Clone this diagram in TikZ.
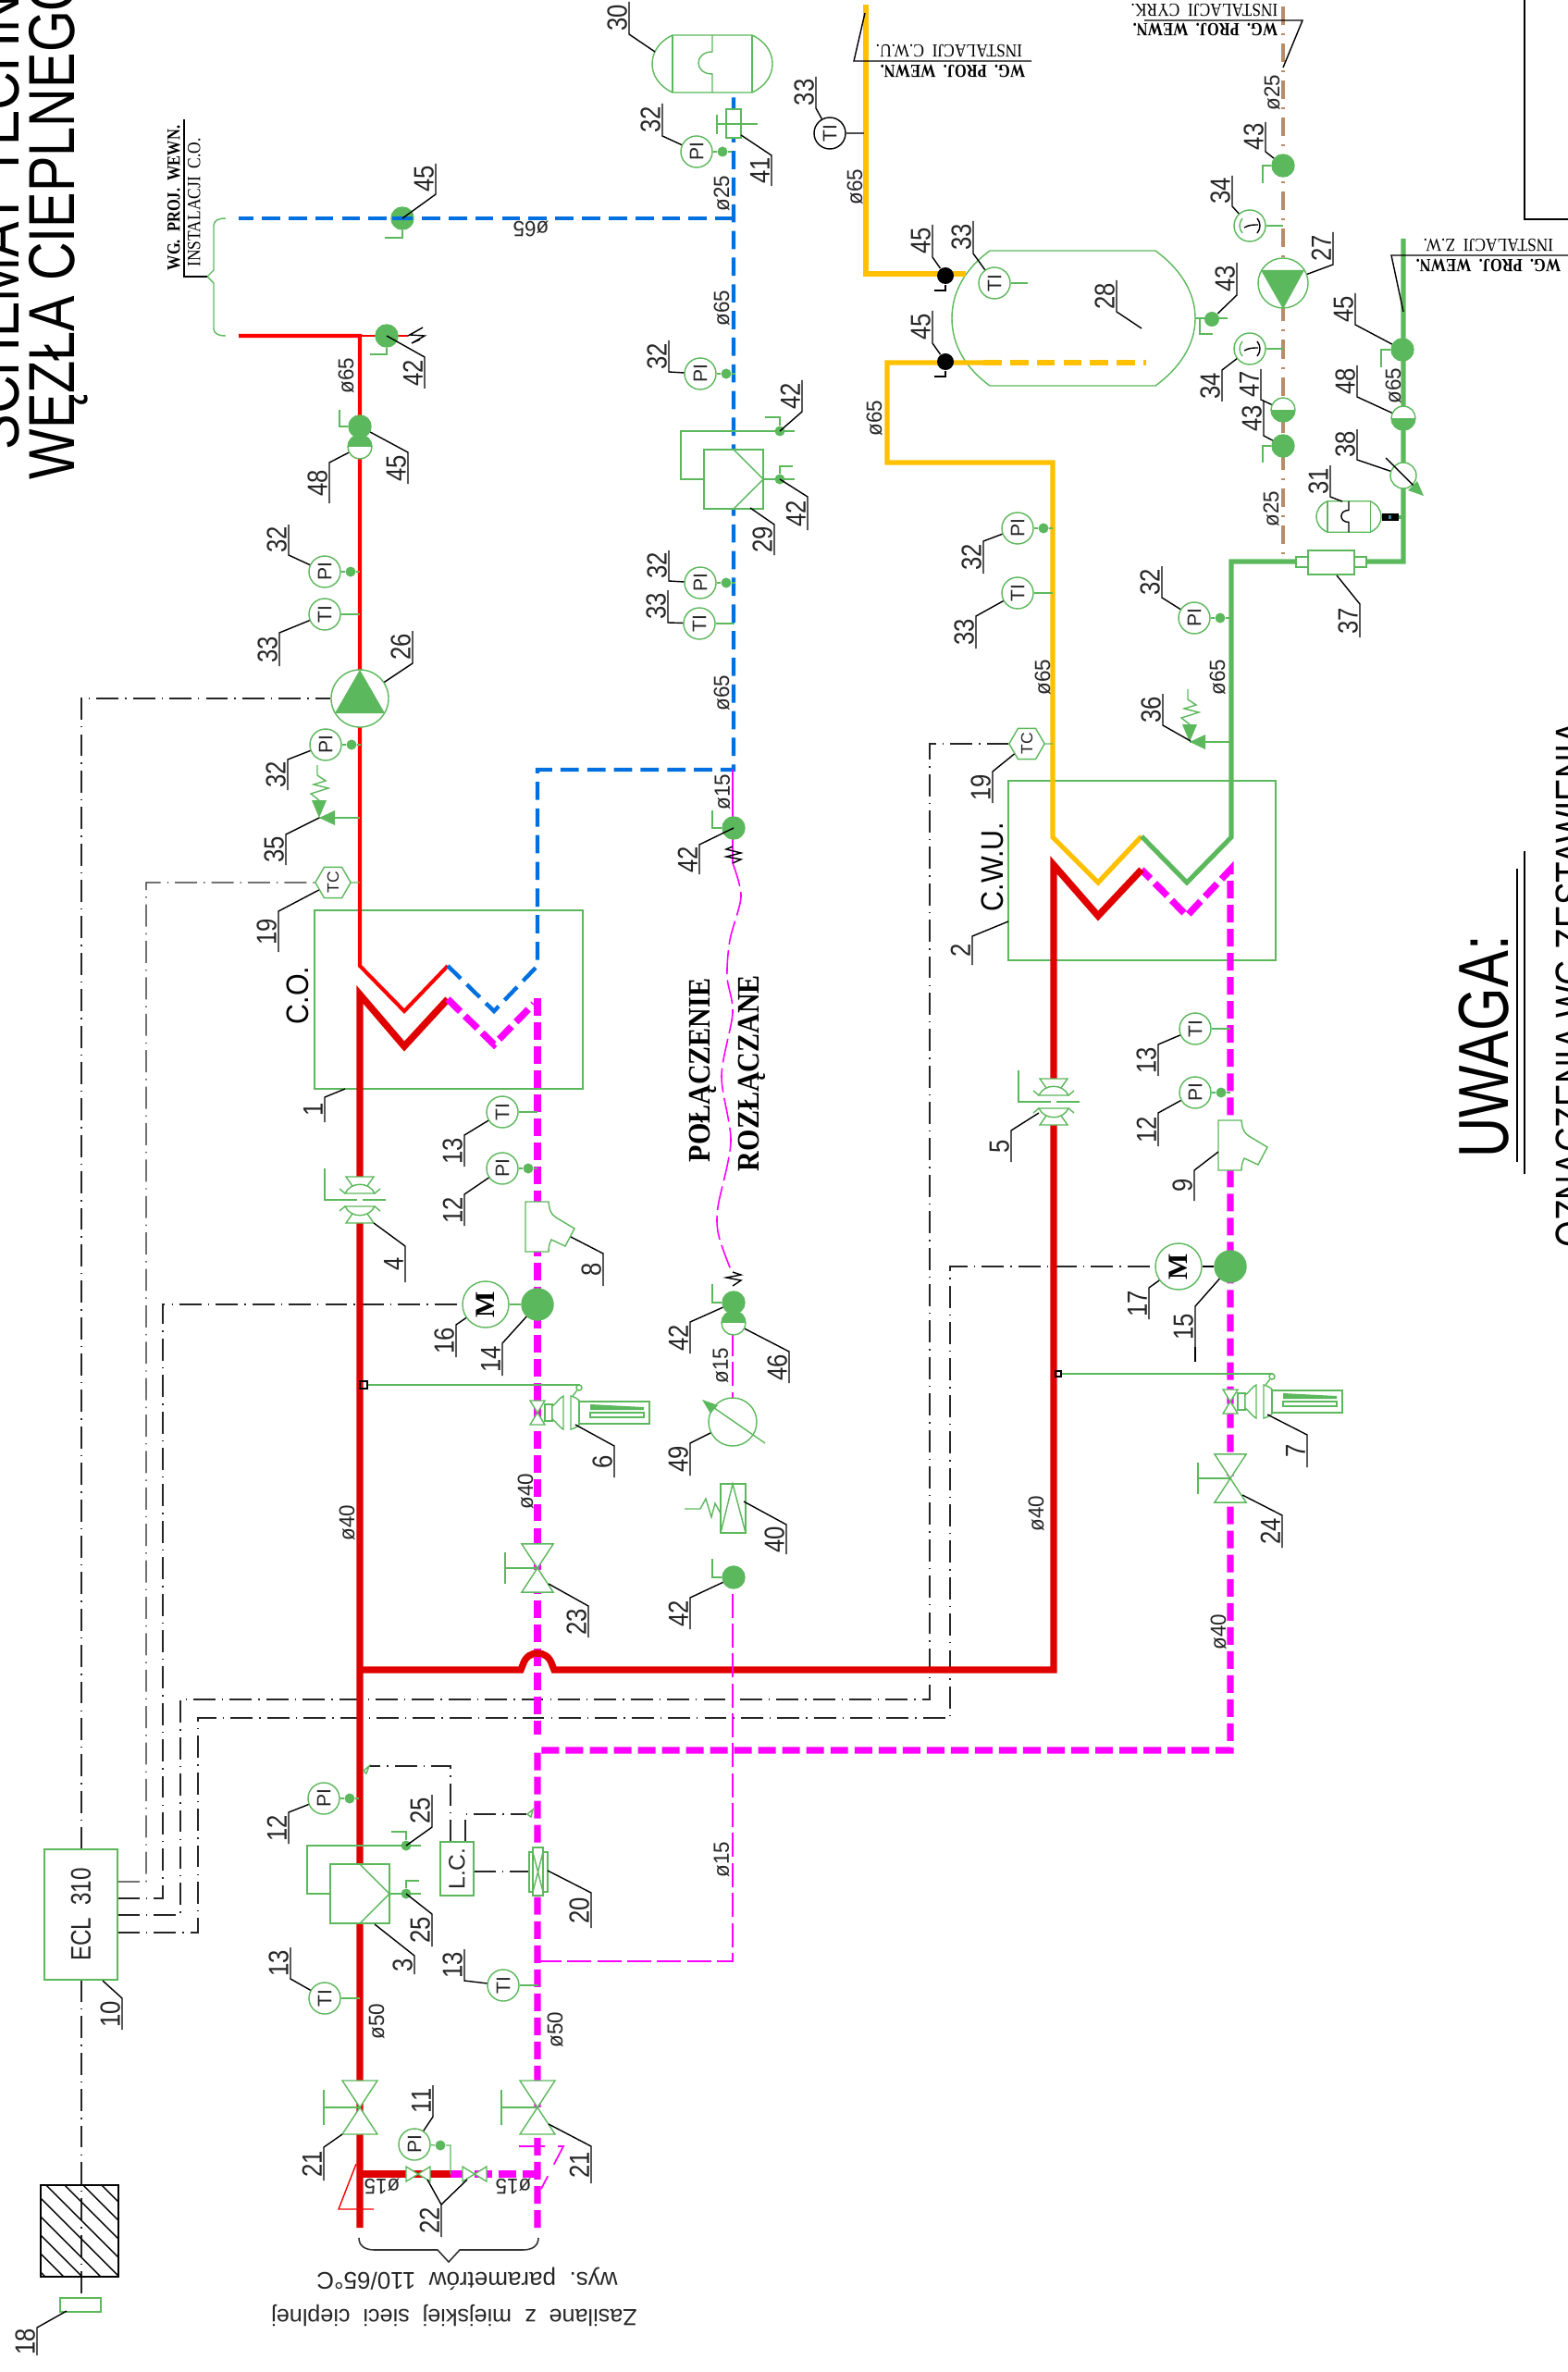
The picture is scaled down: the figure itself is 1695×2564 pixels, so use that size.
\documentclass[tikz,border=0pt]{standalone}
\usepackage{fontspec}
\setmainfont{Liberation Sans}
\newfontfamily\cadserif{Liberation Serif}
\usetikzlibrary{shapes.geometric,backgrounds}
\definecolor{pipegreen}{RGB}{92,184,92}
\definecolor{pipered}{RGB}{224,0,0}
\definecolor{thinred}{RGB}{255,0,0}
\definecolor{pipepink}{RGB}{255,0,255}
\definecolor{pipeblue}{RGB}{0,112,224}
\definecolor{pipeyellow}{RGB}{255,192,0}
\definecolor{pipebrown}{RGB}{184,140,100}
\tikzset{
    green line/.style={draw=pipegreen,line width=.4pt},
    tag line/.style={draw=black,line width=.4pt},
    tag text/.style={anchor=south,rotate=90,xscale=.85,inner sep=.4pt,text=black!85,
        font=\fontsize{8.6}{8.6}\selectfont},
    control line/.style={draw=black!85,line width=.4pt,dash pattern=on 6.8pt off 2pt on .4pt off 2pt},
    hot main/.style={draw=pipered,line width=2.1pt},
    hot thin/.style={draw=thinred,line width=1.15pt},
    back main/.style={draw=pipepink,line width=2.1pt,dash pattern=on 5.4pt off 2pt},
    back thin/.style={draw=pipepink,line width=.45pt,dash pattern=on 7.4pt off 1.8pt},
    blue main/.style={draw=pipeblue,line width=1.25pt,dash pattern=on 5.6pt off 2.6pt},
    yellow main/.style={draw=pipeyellow,line width=1.5pt},
    green main/.style={draw=pipegreen,line width=1.45pt},
    brown main/.style={draw=pipebrown,line width=1.35pt,dash pattern=on 5.7pt off 2.56pt on .57pt off 2.56pt},
    box/.style={draw=pipegreen,line width=.4pt,inner sep=0pt},
    gauge/.style={circle,draw=pipegreen,fill=white,line width=.4pt,inner sep=0pt,minimum size=.34cm,
        rotate=90,text=black!85,font=\fontsize{6}{6}\selectfont},
    bead/.style={circle,fill=pipegreen,inner sep=0pt,minimum size=.11cm},
    ball/.style={circle,fill=pipegreen,draw=pipegreen,inner sep=0pt,minimum size=.24cm},
    black ball/.style={circle,fill=black,inner sep=0pt,minimum size=.18cm},
    half top/.style={circle,draw=pipegreen,fill=white,line width=.4pt,inner sep=0pt,minimum size=.26cm,
        path picture={\fill[pipegreen] (path picture bounding box.west) rectangle (path picture bounding box.north east);}},
    half low/.style={circle,draw=pipegreen,fill=white,line width=.4pt,inner sep=0pt,minimum size=.26cm,
        path picture={\fill[pipegreen] (path picture bounding box.west) rectangle (path picture bounding box.south east);}},
    hex/.style={regular polygon,regular polygon sides=6,shape border rotate=90,draw=pipegreen,fill=white,
        line width=.4pt,inner sep=0pt,minimum size=.34cm,rotate=90,text=black!85,font=\fontsize{5}{5}\selectfont},
    motor/.style={circle,draw=pipegreen,fill=white,line width=.4pt,inner sep=0pt,minimum size=.5cm,
        rotate=90,font=\cadserif\bfseries\fontsize{8.5}{8.5}\selectfont},
    dim base/.style={inner sep=0pt,text=black!85,font=\fontsize{6.7}{6.7}\selectfont},
    dim up/.style={dim base,rotate=90,xscale=.95},
    dim flip/.style={dim base,rotate=180,xscale=.95},
    note up/.style={rotate=90,xscale=.87,inner sep=0pt,font=\cadserif\fontsize{5.7}{5.7}\selectfont},
    note flip/.style={rotate=180,xscale=.87,inner sep=0pt,font=\cadserif\fontsize{5.7}{5.7}\selectfont},
    head up/.style={rotate=90,xscale=.82,inner sep=0pt,font=\cadserif\bfseries\fontsize{5.7}{5.7}\selectfont},
    head flip/.style={rotate=180,xscale=.82,inner sep=0pt,font=\cadserif\bfseries\fontsize{5.7}{5.7}\selectfont},
    big text/.style={anchor=base west,rotate=90,inner sep=0pt},
    gate valve/.pic={
        \draw[green line,fill=white] (-19,-29) -- (19,-29) -- (-19,29) -- (19,29) -- cycle;
        \draw[green line] (0,0) -- (-39,0) (-39,-19) -- (-39,19);
    },
    bow valve/.pic={
        \draw[green line,fill=white] (-13,-8) -- (-13,8) -- (13,-8) -- (13,8) -- cycle;
    },
    flow valve/.pic={
        \fill[white] (-16,-25) rectangle (16,25);
        \draw[green line,fill=white] (-15,-25) -- (15,-25) -- (8,-15) -- (-8,-15) -- cycle;
        \draw[green line,fill=white] (-15,25) -- (15,25) -- (8,15) -- (-8,15) -- cycle;
        \draw[green line,fill=white] (-16,-7) .. controls (-10,-20) and (10,-20) .. (16,-7) -- cycle;
        \draw[green line,fill=white] (-16,7) .. controls (-10,20) and (10,20) .. (16,7) -- cycle;
        \draw[green line] (-22,-12) -- (-16,-7) (22,-12) -- (16,-7) (-22,12) -- (-16,7) (22,12) -- (16,7);
        \draw[green line] (-38,-34) -- (-38,0) -- (-3,0) (3,0) -- (28,0);
    },
    control valve/.pic={
        \draw[green line,fill=white] (-8,-13) -- (8,-13) -- (-8,13) -- (8,13) -- cycle;
        \draw[green line,fill=white] (8,-9) rectangle (16,9);
        \draw[green line,fill=white] (16,-7) .. controls (22,-12) and (24,-16) .. (28,-18) -- (28,18) .. controls (24,16) and (22,12) .. (16,7) -- cycle;
        \draw[green line,fill=white] (36,-18) .. controls (40,-17) and (44,-15) .. (46,-12) -- (46,12) .. controls (44,15) and (40,17) .. (36,18) -- cycle;
        \draw[green line,fill=white] (45,-12) rectangle (121,12);
        \draw[green line] (57,0) rectangle (115,5);
        \fill[pipegreen] (57,-9) -- (115,-6) -- (115,-3) -- (57,-3) -- cycle;
        \node[circle,green line,inner sep=0pt,minimum size=.06cm] (-eye) at (45,-27) {};
        \draw[green line] (-eye) -- (38,-18);
    },
    pressure regulator/.pic={
        \draw[green line,fill=white] (-32,-32) rectangle (32,32);
        \draw[green line] (0,-32) -- (32,0) -- (0,32);
        \draw[green line] (-32,0) -- (-57,0) -- (-57,-52) -- (66,-52);
        \draw[green line] (32,0) -- (66,0);
        \node[bead] (-up) at (50,-52) {};
        \node[bead] (-low) at (50,0) {};
        \draw[green line] (-up) -- (50,-67) -- (34,-67);
        \draw[green line] (-low) -- (50,-14) -- (64,-14);
    },
    strainer/.pic={
        \draw[green line,fill=white] (-13,-27) -- (12,-27) .. controls (13,-18) and (14,-14) .. (20,-10) -- (40,2)
            -- (30,21) -- (15,14) .. controls (13,18) and (12,22) .. (12,27) -- (-13,27) -- cycle;
    },
    relief valve/.pic={
        \draw[green line] (0,0) -- (44,0);
        \fill[pipegreen] (0,0) -- (17,-8) -- (17,8) -- cycle;
        \fill[pipegreen] (0,0) -- (-8,-19) -- (8,-19) -- cycle;
        \draw[green line] (0,-19) -- (-9,-26) -- (10,-32) -- (-6,-36) -- (7,-40) -- (-2,-46) -- (-2,-57);
    },
    diaphragm tank/.pic={
        \draw[green line,fill=white] (-43,-31) -- (43,-31) .. controls (58,-24) and (65,-12) .. (65,0)
            .. controls (65,12) and (58,24) .. (43,31) -- (-43,31) .. controls (-58,24) and (-65,12) .. (-65,0)
            .. controls (-65,-12) and (-58,-24) .. (-43,-31) -- cycle;
        \draw[green line] (-43,-31) -- (-43,31) (43,-31) -- (43,31);
        \draw[draw=#1,line width=.4pt] (0,-31) -- (0,-13) .. controls (-20,-13) and (-20,11) .. (0,11) -- (0,31);
    },
    dial mark/.pic={
        \draw[green line] (-8,-8) .. controls (-12,-3) and (-12,3) .. (-8,8);
        \draw[black,line width=.4pt] (-6,2) .. controls (-1,-1) and (4,-1) .. (9,-1);
        \draw[black,line width=.4pt] (8,-8) .. controls (12,-3) and (12,3) .. (8,8);
    }
}
\newcounter{tagno}
\newcommand{\tagmark}[4]{%
    \stepcounter{tagno}%
    \draw[tag line] #1 -- #2 -- #3 node[tag text,midway] (tag\arabic{tagno}) {#4};%
}
\newcommand{\gaugePI}[2]{%
    \node[gauge] (#1) at (#2) {PI};%
    \path (#1) ++(28,0) node[bead] (#1b) {};%
    \draw[green line] (#1) -- (#1b) -- ++(10,0);%
}
\newcommand{\gaugeTI}[2]{%
    \node[gauge] (#1) at (#2) {TI};%
    \draw[green line] (#1) -- ++(38,0);%
}

\begin{document}
\begin{tikzpicture}[x=.01cm,y=-.01cm]
    \useasboundingbox (0,0) rectangle (1695,2564);
    \clip (0,0) rectangle (1695,2564);

    \node[box,minimum width=2.9cm,minimum height=1.93cm] (co) at (485,1080.5) {};
    \node[box,minimum width=2.89cm,minimum height=1.94cm] (cwu) at (1234.5,941) {};

    \node[big text,xscale=.82,font=\fontsize{20}{20}\selectfont] (title1) at (21,487) {SCHEMAT TECHN};
    \node[big text,xscale=.82,font=\fontsize{20}{20}\selectfont] (title2) at (80,519) {WĘZŁA CIEPLNEGO};
    \node[big text,xscale=.78,font=\fontsize{21.8}{21.8}\selectfont] (uwaga) at (1630,1252) {UWAGA:};
    \node[big text,xscale=.79,font=\fontsize{13.3}{13.3}\selectfont] (ozn) at (1714,1349) {OZNACZENIA WG ZESTAWIENIA};
    \draw[black,line width=.4pt] (1640,939) -- (1640,1256) (1648,920) -- (1648,1269);
    \draw[black,line width=.4pt] (1695,237) -- (1648,237) -- (1648,0);

    \draw[green line] (1070,271) -- (1249,271) .. controls (1275,290) and (1292,315) .. (1292,344)
        .. controls (1292,373) and (1275,398) .. (1249,417) -- (1070,417) .. controls (1044,398) and (1029,373) .. (1029,344)
        .. controls (1029,315) and (1044,290) .. (1070,271) -- cycle;

    \draw[hot thin] (258,363) -- (389,363) -- (389,1044) -- (437,1093) -- (484,1044);
    \draw[blue main] (484,1044) -- (534,1093) -- (581,1044) -- (581,832) -- (793,832) -- (793,100);
    \draw[blue main] (793,236) -- (258,236);
    \draw[hot main] (389,2408) -- (389,1075) -- (437,1131) -- (484,1080);
    \draw[back main] (484,1080) -- (534,1129) -- (577,1085);
    \draw[back main] (581,1079) -- (581,1875);
    \draw[back main] (581,2408) -- (581,1892) -- (1330,1892) -- (1330,940) -- (1283,990) -- (1234,940);
    \draw[hot main] (389,1805) -- (563,1805) -- (565,1800) .. controls (568,1790) and (575,1787) .. (581,1787)
        .. controls (587,1787) and (594,1790) .. (597,1800) -- (599,1805) -- (1139,1805) -- (1139,935) -- (1187,990) -- (1234,940);
    \draw[hot main] (389,2350) -- (487,2350);
    \draw[back main] (487,2350) -- (581,2350);
    \draw[yellow main] (1234,904) -- (1187,954) -- (1138,905) -- (1138,500) -- (959,500) -- (959,392) -- (1063,392);
    \draw[yellow main,dash pattern=on 5.6pt off 2.6pt] (1063,392) -- (1239,392);
    \draw[yellow main] (936,5) -- (936,296) -- (1044,296);
    \draw[green main] (1234,904) -- (1283,954) -- (1331,905) -- (1331,607) -- (1517,607) -- (1517,258);
    \draw[brown main] (1387,7) -- (1387,607);

    \draw[back thin] (581,2120) -- (792,2120) -- (792,1718);
    \draw[back thin] (792,1657) -- (792,1604);
    \draw[back thin] (792,1563) -- (792,1442);
    \draw[draw=pipepink,line width=.45pt] (792,933) -- (792,832);
    \draw[back thin] plot[smooth] coordinates {(792,933) (801,969) (789,1016) (786,1056) (792,1095) (780,1163) (790,1234) (776,1305) (777,1336) (791,1375)};
    \draw[black,line width=.4pt] (792,915) -- (785,918) -- (801,922) -- (785,926) -- (801,929) -- (792,933);
    \draw[black,line width=.4pt] (792,1375) -- (801,1378) -- (785,1381) -- (801,1384) -- (792,1390);

    \draw[draw=thinred,line width=.4pt] (385,2339) -- (366,2388) -- (404,2388);
    \draw[draw=pipepink,line width=.5pt,dash pattern=on 8pt off 4pt] (561,2320) -- (609,2320) -- (585,2366);
    \draw[draw=thinred,line width=.4pt] (390,363) -- (441,363);
    \draw[black,line width=.4pt] (441,363) -- (457,354) -- (443,362) -- (459,363) -- (445,371) -- (454,367);

    \pic (vA) at (389,2278) {gate valve};
    \pic (vB) at (581,2278) {gate valve};
    \pic[scale=.9] (vC) at (581,1695) {gate valve};
    \pic[scale=.9] (vD) at (1330,1598) {gate valve};
    \pic (vE) at (452,2350) {bow valve};
    \pic (vF) at (513,2350) {bow valve};
    \pic (fA) at (389,1297) {flow valve};
    \pic (fB) at (1139,1191) {flow valve};
    \pic (cvA) at (581,1527) {control valve};
    \pic (cvB) at (1330,1515) {control valve};
    \pic (reA) at (389,2047) {pressure regulator};
    \pic (reB) at (793,518) {pressure regulator};
    \pic (stA) at (581,1326) {strainer};
    \pic (stB) at (1330,1238) {strainer};
    \pic (rvA) at (345,884) {relief valve};
    \pic (rvB) at (1286,802) {relief valve};
    \pic (tkA) at (770,69) {diaphragm tank=pipegreen};
    \pic[scale=.54] (tkB) at (1458,558.5) {diaphragm tank=black};

    \node[box,fill=white,rotate=90,minimum width=1.41cm,minimum height=.79cm,text=black!85,font=\fontsize{8.6}{8.6}\selectfont] (ecl) at (87.5,2069.5) {\scalebox{.8}[1]{ECL\ \ 310}};
    \node[box,fill=white,rotate=90,minimum width=.58cm,minimum height=.36cm,text=black!85,font=\fontsize{7}{7}\selectfont] (lc) at (494,2020) {L.C.};
    \node[box,minimum width=.44cm,minimum height=.15cm] (sens) at (87,2491.5) {};
    \node[draw=black,line width=.5pt,minimum width=.84cm,minimum height=.99cm,inner sep=0pt] (hatch) at (86,2411.5) {};
    \begin{scope}
        \clip (44,2362) rectangle (128,2461);
        \foreach \k in {-70,-50,...,110} {
            \draw[black,line width=.4pt] (\k,2362) -- ++(100,100);
        }
    \end{scope}

    \node[circle,draw=pipegreen,fill=white,line width=.4pt,inner sep=0pt,minimum size=.62cm] (pA) at (389,755) {};
    \fill[pipegreen] (389,724) -- (416,771) -- (362,771) -- cycle;
    \node[circle,draw=pipegreen,fill=white,line width=.4pt,inner sep=0pt,minimum size=.54cm] (pB) at (1387,306) {};
    \fill[pipegreen] (1363,292) -- (1410,292) -- (1387,334) -- cycle;
    \node[motor] (mA) at (525,1410) {M};
    \node[motor] (mB) at (1274,1369) {M};
    \node[ball,minimum size=.34cm] (bA) at (581,1410) {};
    \node[ball,minimum size=.34cm] (bB) at (1330,1369) {};
    \draw[green line] (mA) -- (bA);
    \draw[black,line width=.4pt] (mB) -- (bB);
    \node[hex] (tcA) at (360,954) {TC};
    \node[hex] (tcB) at (1110,804) {TC};
    \draw[green line] (tcA) -- (389,954);
    \draw[green line] (tcB) -- (1138,804);

    \gaugePI{piA}{350,1944}
    \gaugePI{piB}{543,1263}
    \gaugePI{piC}{1292,1181}
    \gaugePI{piD}{352,805}
    \gaugePI{piE}{351,618}
    \gaugePI{piF}{753,164}
    \gaugePI{piG}{757,404}
    \gaugePI{piH}{757,630}
    \gaugePI{piJ}{1100,571}
    \gaugePI{piK}{1291,668}
    \node[gauge] (piL) at (448,2318) {PI};
    \node[bead] (piLb) at (476,2319) {};
    \draw[green line] (piL) -- (piLb) -- (487,2319) -- (487,2350);
    \gaugeTI{tiA}{351,2160}
    \gaugeTI{tiB}{544,2146}
    \gaugeTI{tiC}{543,1202}
    \gaugeTI{tiD}{1292,1112}
    \gaugeTI{tiE}{351,664}
    \gaugeTI{tiF}{756,674}
    \gaugeTI{tiG}{1100,641}
    \node[gauge,draw=black] (tiH) at (897,144) {TI};
    \draw[black!70,line width=.5pt] (tiH) -- (934,144);
    \node[gauge] (tiJ) at (1075,306) {TI};
    \draw[green line] (tiJ) -- (1111,306);
    \node[gauge] (thA) at (1351,244) {};
    \node[gauge] (thB) at (1351,377) {};
    \draw[green line] (thA) -- (1387,244);
    \draw[green line] (thB) -- (1387,377);
    \pic at (1351,244) {dial mark};
    \pic at (1351,377) {dial mark};

    \node[ball] (gA) at (435,236) {};
    \draw[green line] (gA) -- (435,257) -- (416,257);
    \draw[pipeblue,line width=1.25pt] (424,236) -- (446,236);
    \node[ball] (gB) at (418,363) {};
    \draw[green line] (gB) -- (418,383) -- (400,383);
    \node[ball] (gC) at (389,461) {};
    \draw[green line] (gC) -- (367,461) -- (367,443);
    \node[half top] (hA) at (389,483) {};
    \node[ball] (gD) at (793,895) {};
    \draw[green line] (gD) -- (770,895) -- (770,876);
    \node[ball] (gE) at (793,1408) {};
    \draw[green line] (gE) -- (770,1408) -- (770,1388);
    \node[half top] (hB) at (793,1430) {};
    \node[ball] (gF) at (793,1705) {};
    \draw[green line] (gF) -- (770,1705) -- (770,1685);
    \node[black ball] (kA) at (1022,298) {};
    \draw[black,line width=.4pt] (kA) -- (1022,314) -- (1010,314);
    \node[black ball] (kB) at (1022,391) {};
    \draw[black,line width=.4pt] (kB) -- (1022,407) -- (1010,407);
    \node[ball] (gG) at (1387,179) {};
    \draw[green line] (gG) -- (1365,179) -- (1365,198);
    \node[ball] (gH) at (1387,482) {};
    \draw[green line] (gH) -- (1365,482) -- (1365,500);
    \node[half low] (hC) at (1387,443) {};
    \node[ball] (gJ) at (1516,378) {};
    \draw[green line] (gJ) -- (1493,378) -- (1493,397);
    \node[half low] (hD) at (1517,452) {};
    \node[bead,minimum size=.16cm] (gK) at (1310,345) {};
    \draw[green line] (1292,344) -- (1327,344) (1297,344) -- (1297,361) -- (1311,361);

    \node[circle,draw=pipegreen,fill=white,line width=.4pt,inner sep=0pt,minimum size=.52cm] (pC) at (792,1537) {};
    \draw[green line] (827,1560) -- (765,1517);
    \fill[pipegreen] (759,1513) -- (776,1519) -- (768,1528) -- cycle;
    \draw[green line,fill=white] (779,1604) rectangle (806,1657);
    \draw[green line] (779,1657) -- (792,1604) -- (806,1657);
    \draw[green line] (740,1631) -- (757,1631) -- (763,1620) -- (769,1640) -- (773,1625) -- (779,1636);
    \node[circle,draw=pipegreen,fill=white,line width=.4pt,inner sep=0pt,minimum size=.28cm] (pD) at (1517,514) {};
    \draw[black,line width=.4pt] (1498,495) -- (1534,531);
    \fill[pipegreen] (1539,536) -- (1522,530) -- (1532,520) -- cycle;
    \draw[green line,fill=white] (1414,595) rectangle (1464,621);
    \draw[green line,fill=white] (1401,602) rectangle (1414,613);
    \draw[green line,fill=white] (1464,602) rectangle (1477,613);
    \fill[black] (1494,555) rectangle (1512,563);
    \fill[cyan!60!black] (1501,557) rectangle (1504,561);
    \draw[green line,line width=1pt] (1512,559) -- (1517,559);
    \draw[green line,fill=white] (785,118) rectangle (801,149);
    \draw[green line] (775,134) -- (819,134) (775,124) -- (775,145);
    \draw[green line,fill=white] (572,2002) rectangle (592,2045);
    \draw[green line,fill=white] (576,1997) rectangle (587,2049);
    \draw[green line] (576,2002) -- (587,2045) (587,2002) -- (576,2045);
    \draw[green line,fill=white] (399,1909) -- (393,1914) -- (396,1917) -- cycle;
    \draw[green line,fill=white] (576,1956) -- (570,1961) -- (574,1964) -- cycle;

    \node[draw=black,line width=.4pt,inner sep=0pt,minimum size=.08cm] (capA) at (393,1497) {};
    \node[draw=black,line width=.4pt,inner sep=0pt,minimum size=.06cm] (capB) at (1144,1485) {};
    \draw[green line] (capA) -| (cvA-eye.north);
    \draw[green line] (capB) -| (cvB-eye.north);

    \begin{pgfonlayer}{background}
        \draw[control line] (88,1999) -- (88,755) -- (pA);
        \draw[control line] (88,2140) -- (88,2484);
        \draw[control line] (127,2034) -- (158,2034) -- (158,954) -- (tcA);
        \draw[control line] (127,2052) -- (176,2052) -- (176,1410) -- (mA);
        \draw[control line] (127,2070) -- (195,2070) -- (195,1837) -- (1005,1837) -- (1005,804) -- (tcB);
        \draw[control line] (127,2089) -- (214,2089) -- (214,1857) -- (1027,1857) -- (1027,1369) -- (mB);
        \draw[control line] (487,1991) -- (487,1909) -- (399,1909);
        \draw[control line] (503,1991) -- (503,1961) -- (569,1961);
        \draw[control line] (512,2023) -- (572,2023);
    \end{pgfonlayer}

    \draw[green line] (244,236) .. controls (235,236) and (231,239) .. (231,244) -- (231,292) -- (224,299) -- (231,306) -- (231,355) .. controls (231,360) and (235,363) .. (244,363);
    \draw[black,line width=.4pt] (199,129) -- (199,299) -- (224,299);
    \draw[black,line width=.4pt] (935,14) -- (923,66) -- (1115,66);
    \draw[black,line width=.4pt] (1387,73) -- (1408,22) -- (1237,22);
    \draw[black,line width=.4pt] (1517,337) -- (1504,276) -- (1695,276);
    \draw[black!80,line width=.45pt] (388,2419) .. controls (388,2428) and (395,2432) .. (405,2432) -- (473,2432) -- (485,2445) -- (497,2432) -- (565,2432) .. controls (575,2432) and (582,2428) .. (582,2419);

    \node[head up] (nA) at (188,214) {WG.\ \ PROJ.\ \ WEWN.};
    \node[note up] (nB) at (210,219) {INSTALACJI\ \ C.O.};
    \node[head flip] (nC) at (1030,77) {WG.\ \ PROJ.\ \ WEWN.};
    \node[note flip] (nD) at (1026,55) {INSTALACJI\ \ C.W.U.};
    \node[head flip] (nE) at (1303,32) {WG.\ \ PROJ.\ \ WEWN.};
    \node[note flip] (nF) at (1302,11) {INSTALACJI\ \ CYRK.};
    \node[head flip] (nG) at (1609,287) {WG.\ \ PROJ.\ \ WEWN.};
    \node[note flip] (nH) at (1609,265) {INSTALACJI\ \ Z.W.};
    \node[rotate=180,inner sep=0pt,text=black!85,font=\fontsize{7.4}{7.4}\selectfont] (nJ) at (505,2463) {wys.\ \ parametrów\ \ 110/65°C};
    \node[rotate=180,inner sep=0pt,text=black!85,font=\fontsize{7.15}{7.15}\selectfont] (nK) at (491,2503) {Zasilane\ \ z\ \ miejskiej\ \ sieci\ \ cieplnej};
    \node[rotate=90,inner sep=0pt,xscale=.89,font=\cadserif\bfseries\fontsize{9.6}{9.6}\selectfont] (nL) at (760,1157) {POŁĄCZENIE};
    \node[rotate=90,inner sep=0pt,xscale=.89,font=\cadserif\bfseries\fontsize{9.6}{9.6}\selectfont] (nM) at (813,1160) {ROZŁĄCZANE};
    \node[rotate=90,inner sep=0pt,xscale=.9,font=\fontsize{9.6}{9.6}\selectfont] (nN) at (322,1076) {C.O.};
    \node[rotate=90,inner sep=0pt,xscale=.9,font=\fontsize{9.6}{9.6}\selectfont] (nP) at (1073,937) {C.W.U.};

    \node[dim up] (dA) at (374,406) {ø65};
    \node[dim flip] (dB) at (574,248) {ø65};
    \node[dim up] (dC) at (780,209) {ø25};
    \node[dim up] (dD) at (780,333) {ø65};
    \node[dim up] (dE) at (780,749) {ø65};
    \node[dim up] (dF) at (781,856) {ø15};
    \node[dim up] (dG) at (779,1476) {ø15};
    \node[dim up] (dH) at (375,1646) {ø40};
    \node[dim up] (dJ) at (568,1612) {ø40};
    \node[dim up] (dK) at (780,2010) {ø15};
    \node[dim up] (dL) at (407,2185) {ø50};
    \node[dim up] (dM) at (600,2194) {ø50};
    \node[dim flip] (dN) at (413,2363) {ø15};
    \node[dim flip] (dP) at (555,2363) {ø15};
    \node[dim up] (dQ) at (924,202) {ø65};
    \node[dim up] (dR) at (945,452) {ø65};
    \node[dim up] (dS) at (1375,100) {ø25};
    \node[dim up] (dT) at (1374,550) {ø25};
    \node[dim up] (dU) at (1127,732) {ø65};
    \node[dim up] (dV) at (1316,732) {ø65};
    \node[dim up] (dW) at (1506,417) {ø65};
    \node[dim up] (dX) at (1120,1636) {ø40};
    \node[dim up] (dY) at (1317,1764) {ø40};

    \tagmark{(111,2141)}{(132,2160)}{(132,2194)}{10}
    \tagmark{(72,2498)}{(40,2516)}{(40,2546)}{18}
    \tagmark{(370,2307)}{(350,2321)}{(350,2357)}{21}
    \tagmark{(593,2296)}{(639,2320)}{(639,2360)}{21}
    \tagmark{(piL)}{(468,2288)}{(468,2254)}{11}
    \tagmark{(462,2356)}{(477,2383)}{(477,2418)}{22}
    \draw[tag line] (505,2356) -- (477,2383);
    \tagmark{(tiA)}{(314,2139)}{(314,2105)}{13}
    \tagmark{(tiB)}{(502,2141)}{(502,2107)}{13}
    \tagmark{(piA)}{(312,1959)}{(312,1993)}{12}
    \tagmark{(reA-up.center)}{(467,1975)}{(467,1940)}{25}
    \tagmark{(reA-low.center)}{(467,2069)}{(467,2104)}{25}
    \tagmark{(405,2080)}{(448,2114)}{(448,2134)}{3}
    \tagmark{(592,2022)}{(639,2046)}{(639,2084)}{20}
    \tagmark{(593,1712)}{(636,1736)}{(636,1770)}{23}
    \tagmark{(622,1540)}{(664,1563)}{(664,1597)}{6}
    \tagmark{(mA)}{(493,1432)}{(493,1467)}{16}
    \tagmark{(bA)}{(543,1452)}{(543,1487)}{14}
    \tagmark{(617,1337)}{(652,1355)}{(652,1390)}{8}
    \tagmark{(tiC)}{(502,1227)}{(502,1261)}{13}
    \tagmark{(piB)}{(502,1291)}{(502,1325)}{12}
    \tagmark{(404,1322)}{(438,1347)}{(438,1386)}{4}
    \tagmark{(373,1177)}{(351,1186)}{(351,1213)}{1}
    \tagmark{(tcA)}{(301,985)}{(301,1029)}{19}
    \tagmark{(345,884)}{(309,902)}{(309,935)}{35}
    \tagmark{(piD)}{(311,821)}{(311,854)}{32}
    \tagmark{(pA)}{(446,717)}{(446,682)}{26}
    \tagmark{(tiE)}{(302,684)}{(302,720)}{33}
    \tagmark{(piE)}{(312,600)}{(312,567)}{32}
    \tagmark{(hA)}{(356,500)}{(356,544)}{48}
    \tagmark{(gC)}{(441,489)}{(441,523)}{45}
    \tagmark{(gB.center)}{(459,386)}{(459,420)}{42}
    \tagmark{(gA.center)}{(471,210)}{(471,177)}{45}
    \tagmark{(708,56)}{(680,37)}{(680,2)}{30}
    \tagmark{(piF)}{(716,147)}{(716,112)}{32}
    \tagmark{(801,146)}{(834,168)}{(834,201)}{41}
    \tagmark{(piG)}{(723,402)}{(723,368)}{32}
    \tagmark{(reB-up.center)}{(867,445)}{(867,411)}{42}
    \tagmark{(reB-low.center)}{(873,537)}{(873,573)}{42}
    \tagmark{(811,549)}{(837,567)}{(837,600)}{29}
    \tagmark{(piH)}{(723,628)}{(723,595)}{32}
    \tagmark{(tiF)}{(722,673)}{(722,638)}{33}
    \tagmark{(gD.center)}{(756,913)}{(756,945)}{42}
    \tagmark{(gE)}{(746,1429)}{(746,1463)}{42}
    \tagmark{(hB)}{(853,1461)}{(853,1495)}{46}
    \tagmark{(pC)}{(746,1560)}{(746,1595)}{49}
    \tagmark{(804,1623)}{(850,1648)}{(850,1680)}{40}
    \tagmark{(gF)}{(746,1727)}{(746,1761)}{42}
    \tagmark{(tiH)}{(882,117)}{(882,83)}{33}
    \tagmark{(kA)}{(1008,278)}{(1008,243)}{45}
    \tagmark{(kB)}{(1008,371)}{(1008,336)}{45}
    \tagmark{(tiJ)}{(1052,274)}{(1052,239)}{33}
    \tagmark{(1234,355)}{(1207,337)}{(1207,303)}{28}
    \tagmark{(piJ)}{(1063,585)}{(1063,620)}{32}
    \tagmark{(tiG)}{(1055,666)}{(1055,701)}{33}
    \tagmark{(tcB)}{(1073,834)}{(1073,868)}{19}
    \tagmark{(1287,801)}{(1257,784)}{(1257,750)}{36}
    \tagmark{(piK)}{(1256,646)}{(1256,612)}{32}
    \tagmark{(1090,996)}{(1051,1012)}{(1051,1043)}{2}
    \tagmark{(1123,1203)}{(1093,1222)}{(1093,1256)}{5}
    \tagmark{(tiD)}{(1252,1129)}{(1252,1163)}{13}
    \tagmark{(piC)}{(1252,1203)}{(1252,1239)}{12}
    \tagmark{(1317,1245)}{(1291,1265)}{(1291,1298)}{9}
    \tagmark{(mB)}{(1242,1392)}{(1242,1426)}{17}
    \tagmark{(bB)}{(1292,1412)}{(1292,1456)}{15}
    \draw[tag line] (1292,1456) -- (1292,1472);
    \tagmark{(1370,1529)}{(1413,1551)}{(1413,1586)}{7}
    \tagmark{(1343,1616)}{(1386,1638)}{(1386,1673)}{24}
    \tagmark{(gG)}{(1368,164)}{(1368,132)}{43}
    \tagmark{(thA)}{(1332,223)}{(1332,190)}{34}
    \tagmark{(gK)}{(1337,319)}{(1337,284)}{43}
    \tagmark{(pB)}{(1441,286)}{(1441,251)}{27}
    \tagmark{(thB)}{(1321,400)}{(1321,434)}{34}
    \tagmark{(hC)}{(1363,432)}{(1363,399)}{47}
    \tagmark{(gH)}{(1366,471)}{(1366,434)}{43}
    \tagmark{(gJ)}{(1465,351)}{(1465,317)}{45}
    \tagmark{(hD)}{(1467,429)}{(1467,395)}{48}
    \tagmark{(pD)}{(1467,497)}{(1467,464)}{38}
    \tagmark{(1451,542)}{(1438,537)}{(1438,503)}{31}
    \tagmark{(1445,622)}{(1470,653)}{(1470,689)}{37}
\end{tikzpicture}
\end{document}
